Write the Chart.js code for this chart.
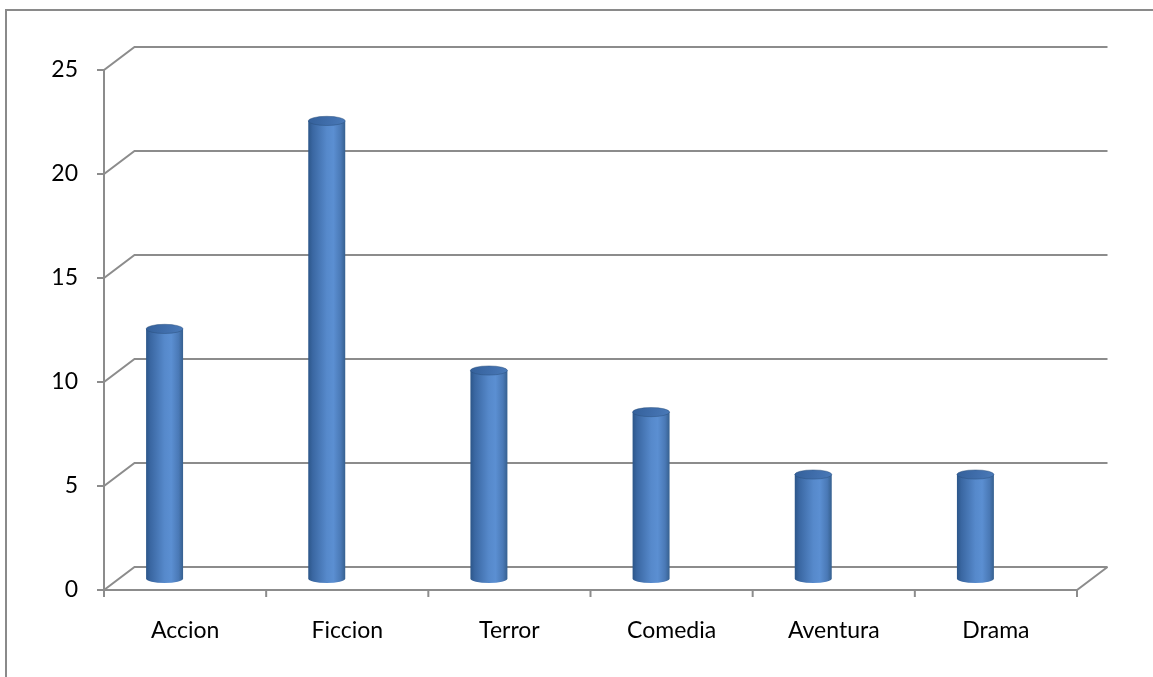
<!DOCTYPE html>
<html>
<head>
<meta charset="utf-8">
<script src="https://cdn.jsdelivr.net/npm/chart.js@4/dist/chart.umd.min.js"></script>
<style>
  html, body { margin: 0; padding: 0; background: #ffffff; }
  #wrap { width: 1153px; height: 677px; position: relative; }
</style>
</head>
<body>
<div id="wrap"><canvas id="c" width="1153" height="677"></canvas></div>
<script>
// Géneros de película y número de votos
const categorias = ['Accion', 'Ficcion', 'Terror', 'Comedia', 'Aventura', 'Drama'];
const votos = [12, 22, 10, 8, 5, 5];
const ejeMin = 0;
const ejeMax = 25;
const ejePaso = 5;

// 3D look: offset of the back wall from the front plane
const FONDO_DX = 30.5;
const FONDO_DY = -23;
// cylinders sit between the front and back planes, slightly left of the category centre
const CIL_DX = -20.5;
const LINEA = '#8c8c8c';

const marcoPlugin = {
  id: 'marco3d',
  beforeDraw(chart) {
    const ctx = chart.ctx;
    ctx.save();
    ctx.strokeStyle = '#8a8a8a';
    ctx.lineWidth = 2;
    ctx.beginPath();
    ctx.moveTo(6, chart.height + 2);
    ctx.lineTo(6, 10);
    ctx.lineTo(chart.width + 2, 10);
    ctx.stroke();
    ctx.restore();
  },
  beforeDatasetsDraw(chart) {
    const ctx = chart.ctx;
    const y = chart.scales.y;
    const left = chart.chartArea.left;
    const right = chart.chartArea.right;
    ctx.save();
    ctx.strokeStyle = LINEA;
    ctx.lineWidth = 2;
    ctx.lineCap = 'butt';
    // back-wall gridlines and side-wall diagonals
    y.ticks.forEach(t => {
      const py = y.getPixelForValue(t.value);
      ctx.beginPath();
      ctx.moveTo(left - 7, py);
      ctx.lineTo(left, py);
      ctx.lineTo(left + FONDO_DX, py + FONDO_DY);
      ctx.lineTo(right + FONDO_DX, py + FONDO_DY);
      ctx.stroke();
    });
    // front vertical axis
    const y0 = y.getPixelForValue(ejeMin);
    const yTop = y.getPixelForValue(ejeMax);
    ctx.beginPath();
    ctx.moveTo(left, yTop);
    ctx.lineTo(left, y0);
    ctx.stroke();
    // floor: front edge and right edge
    ctx.beginPath();
    ctx.moveTo(left, y0);
    ctx.lineTo(right, y0);
    ctx.lineTo(right + FONDO_DX, y0 + FONDO_DY);
    ctx.stroke();
    // category tick marks
    const n = categorias.length;
    for (let i = 0; i <= n; i++) {
      const px = left + (right - left) * i / n;
      ctx.beginPath();
      ctx.moveTo(px, y0);
      ctx.lineTo(px, y0 + 7);
      ctx.stroke();
    }
    ctx.restore();
  },
  afterDatasetsDraw(chart) {
    const ctx = chart.ctx;
    const meta = chart.getDatasetMeta(0);
    ctx.save();
    meta.data.forEach(bar => {
      const w = bar.width;
      const cx = bar.x + CIL_DX;
      const x0 = cx - w / 2;
      const x1 = cx + w / 2;
      const top = bar.y + FONDO_DY / 2;
      const base = bar.base + FONDO_DY / 2;
      const ry = 4.6;
      const rx = w / 2;

      // body with rounded bottom
      const g = ctx.createLinearGradient(x0, 0, x1, 0);
      g.addColorStop(0, '#2c5689');
      g.addColorStop(0.12, '#3a67a2');
      g.addColorStop(0.5, '#5689cb');
      g.addColorStop(0.68, '#5b8fd2');
      g.addColorStop(0.88, '#4a79b6');
      g.addColorStop(1, '#36608f');
      ctx.fillStyle = g;
      ctx.beginPath();
      ctx.moveTo(x0, top);
      ctx.lineTo(x0, base);
      ctx.ellipse(cx, base, rx, ry, 0, Math.PI, 0, true);
      ctx.lineTo(x1, top);
      ctx.closePath();
      ctx.fill();

      // top cap
      const gt = ctx.createLinearGradient(x0, top - ry, x1, top + ry);
      gt.addColorStop(0, '#34609a');
      gt.addColorStop(0.6, '#416fad');
      gt.addColorStop(1, '#4a7ab8');
      ctx.fillStyle = gt;
      ctx.beginPath();
      ctx.ellipse(cx, top, rx, ry, 0, 0, Math.PI * 2);
      ctx.fill();
      ctx.strokeStyle = 'rgba(40,75,120,0.55)';
      ctx.lineWidth = 0.8;
      ctx.stroke();
    });
    ctx.restore();
  }
};

new Chart(document.getElementById('c'), {
  type: 'bar',
  data: {
    labels: categorias,
    datasets: [{
      label: 'Votos',
      data: votos,
      backgroundColor: 'rgba(0,0,0,0)',
      borderWidth: 0,
      categoryPercentage: 1,
      barPercentage: 0.228
    }]
  },
  options: {
    responsive: false,
    devicePixelRatio: 1,
    animation: false,
    layout: { padding: { top: 70, right: 76, left: 0, bottom: 0 } },
    plugins: {
      legend: { display: false },
      tooltip: { enabled: false }
    },
    scales: {
      x: {
        grid: { display: false, drawTicks: false },
        border: { display: false },
        ticks: {
          color: '#000000',
          font: { family: 'Lato', size: 23 },
          padding: 27,
          maxRotation: 0
        },
        afterFit(scale) { scale.height = 87; }
      },
      y: {
        min: ejeMin,
        max: ejeMax,
        grid: { display: false, drawTicks: false },
        border: { display: false },
        ticks: {
          stepSize: ejePaso,
          color: '#000000',
          font: { family: 'Lato', size: 23 },
          padding: 26
        },
        afterFit(scale) { scale.width = 104; }
      }
    }
  },
  plugins: [marcoPlugin]
});
</script>
</body>
</html>
